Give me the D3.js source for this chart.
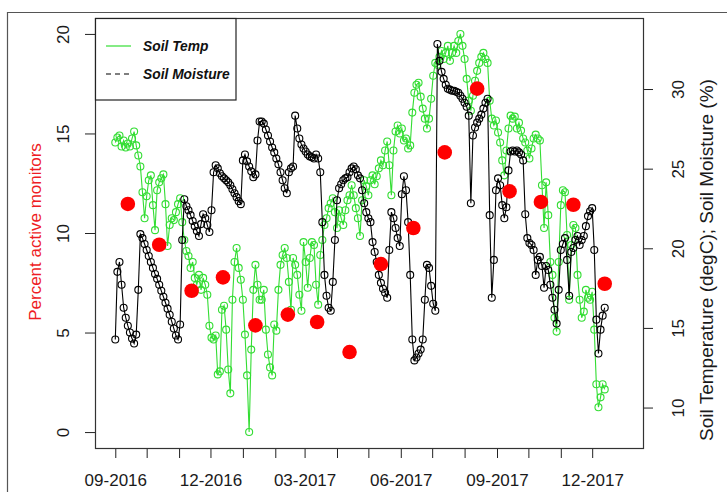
<!DOCTYPE html>
<html>
<head>
<meta charset="utf-8">
<script src="https://cdn.jsdelivr.net/npm/d3@7"></script>
<style>
  html, body { margin: 0; padding: 0; background: #fff; }
  svg { display: block; font-family: "Liberation Sans", Arial, sans-serif; }
</style>
</head>
<body>
<svg id="chart" width="727" height="492"></svg>
<script>
// Monthly share of active monitors (left axis, %)
const monitorDates = ["2016-09-13","2016-10-13","2016-11-13","2016-12-13","2017-01-13","2017-02-13",
  "2017-03-13","2017-04-13","2017-05-13","2017-06-13","2017-07-13","2017-08-13",
  "2017-09-13","2017-10-13","2017-11-13","2017-12-13"];
const monitorPct = [11.46, 9.41, 7.10, 7.77, 5.36, 5.90, 5.53, 4.02, 8.44, 10.25, 14.05, 17.25,
  12.09, 11.56, 11.42, 7.45];

// Soil readings (right axis), one value every two days from the start date
const seriesStart = "2016-09-01";
const seriesStepDays = 2;

const soilTemp = [
  26.64, 26.96, 27.08, 26.39, 26.77, 26.33, 26.58, 26.39, 26.89, 27.33, 26.46, 25.83, 25.14,
  23.52, 21.89, 23.27, 24.27, 24.58, 22.71, 21.14, 23.64, 24.14, 24.39, 24.64, 22.77, 20.14, 21.46, 21.89, 21.77, 22.27, 22.77, 23.14, 21.64, 20.52,
  19.83, 19.52, 18.77, 19.14, 18.14, 17.71, 18.33, 17.39, 18.14, 17.71, 17.08, 15.14, 14.39,
  14.27, 14.52, 12.08, 12.27, 16.14, 16.39, 14.89, 12.39, 10.89, 16.77, 19.14, 20.02, 18.77, 18.02,
  16.77, 14.58, 12.02, 8.46, 13.64, 17.39, 18.96,
  17.71, 16.77, 16.77, 17.39, 14.89, 13.33, 12.52, 12.02, 15.21, 14.83, 17.39, 18.96, 19.58, 20.02, 19.39,
  17.89, 16.14, 19.39,
  18.96, 18.33, 17.08, 16.08, 20.39, 19.14, 17.52, 19.39, 20.39, 20.21, 17.71, 16.46, 19.58,
  20.52, 21.46, 21.89, 22.52, 22.83, 23.14, 22.27,
  21.27, 22.39, 21.89, 21.46, 22.39, 23.02, 23.33, 23.96, 23.33, 22.52, 21.89, 20.77, 23.02, 24.27, 23.89, 23.33, 24.27, 24.58, 24.02, 24.52, 25.02, 25.52, 25.21, 26.14, 26.71,
  25.21, 23.33, 26.14, 27.33, 27.71, 27.21, 27.52, 26.77, 26.89, 26.27, 26.46, 28.52, 29.77, 30.27, 30.39, 29.52, 28.77, 28.14, 27.52, 28.14, 29.39, 30.83, 31.64,
  31.52, 32.02, 32.39, 31.89, 32.27, 32.71, 31.77, 32.27, 32.71, 32.27, 33.02, 33.46, 32.71, 31.89, 30.64, 29.27,
  28.64, 29.58, 30.52, 31.14, 31.64, 32.02, 32.27, 31.89, 31.64,
  29.27, 28.14, 27.71, 28.02, 27.27, 26.64, 25.52, 24.58, 26.14, 27.52, 28.33, 28.14, 28.27, 27.52, 27.89, 27.39, 26.89,
  26.64, 26.14, 25.64, 26.27, 26.89, 27.14, 26.89, 26.77, 23.96, 21.27, 24.14, 22.08, 19.14, 18.33, 15.64, 14.77, 19.14, 22.71, 23.64, 23.52,
  20.83, 16.77, 20.21, 21.46, 21.27, 18.33, 16.77, 15.64, 16.02, 17.39, 16.89, 16.77, 17.27, 14.89, 11.46, 10.02, 10.64, 11.46, 11.14
];

const soilMoisture = [
  14.27, 18.52, 19.14, 17.71, 16.27, 15.64, 15.14, 14.71, 14.33, 14.02, 14.58, 17.39, 20.89,
  20.64, 20.27, 19.89, 19.52, 19.14, 18.77, 18.39, 18.08, 17.71, 17.33, 16.96, 16.58, 16.21, 15.83, 15.39, 14.96, 14.52, 14.27, 15.21, 20.52, 23.08,
  22.64, 22.39, 22.08, 21.71, 21.39, 21.08, 20.77, 21.52, 22.14, 21.89, 21.46, 21.02, 22.39,
  24.77, 25.21, 25.02, 24.71, 24.52, 24.39, 24.27, 24.14, 23.96, 23.71, 23.46, 23.21, 22.96, 22.77,
  25.52, 25.89, 25.46, 25.14, 24.83, 24.46, 24.64,
  26.77, 27.96, 27.96, 27.83, 27.46, 27.08, 26.71, 26.33, 26.02, 25.64, 25.27, 24.77, 24.27, 23.77, 23.46,
  24.77, 25.02, 25.14,
  28.33, 27.52, 26.89, 26.52, 26.27, 26.08, 25.89, 25.77, 25.71, 25.64, 25.89, 25.64, 24.77,
  21.64, 18.33, 17.02, 16.27, 16.08, 17.89, 20.52,
  23.02, 23.77, 24.02, 24.27, 24.39, 24.46, 24.77, 25.02, 25.14, 24.96, 24.58, 24.39, 23.64, 22.83, 22.27, 21.89, 21.64, 20.39, 19.77, 19.14, 18.33, 17.83, 17.46, 17.21, 16.89,
  19.89, 22.27, 21.89, 21.27, 20.64, 20.14, 23.39, 24.52, 23.64, 21.64, 18.33, 14.27, 12.96, 13.14, 13.39, 13.64, 14.27, 16.77, 18.96, 18.77, 17.64, 16.52, 16.08,
  32.83, 31.77, 31.08, 30.64, 30.27, 30.02, 29.96, 29.89, 29.89, 29.83, 29.77, 29.58, 29.39, 29.14, 28.89, 28.33,
  22.83, 27.08, 27.58, 27.89, 28.14, 28.39, 28.77, 29.14, 29.39,
  22.08, 16.89, 19.27, 23.64, 24.39, 23.96, 22.71, 21.89, 22.58, 24.89, 26.08, 26.14, 26.08, 26.14, 26.02, 25.89, 25.52,
  22.14, 20.64, 20.33, 20.21, 19.89, 18.33, 19.27, 19.46, 18.89, 17.52, 18.89, 18.64, 17.71, 16.89, 16.14, 15.27, 17.39, 19.89, 20.27, 20.64,
  19.27, 17.02, 19.77, 20.02, 20.52, 20.77, 20.21, 20.52, 20.77, 21.39, 22.02, 22.33, 22.52, 19.89, 15.52, 13.39, 14.89, 15.77, 16.27
];

const monthLabels = ["09-2016", "12-2016", "03-2017", "06-2017", "09-2017", "12-2017"];
const leftTicks = [0, 5, 10, 15, 20];
const rightTicks = [10, 15, 20, 25, 30];

// ---- layout ----
const box = { left: 95, right: 643, top: 18, bottom: 448 };
const parse = d3.utcParse("%Y-%m-%d");
const fmtMonth = d3.utcFormat("%m-%Y");
const GREEN = "#33dd33";

const x = d3.scaleUtc()
  .domain([new Date(Date.UTC(2016, 7, 12, 14, 24)), new Date(Date.UTC(2018, 0, 18, 14, 24))])
  .range([box.left, box.right]);
const yLeft = d3.scaleLinear().domain([-0.8, 20.8]).range([box.bottom, box.top]);
const yRight = d3.scaleLinear().domain([7.46, 34.46]).range([box.bottom, box.top]);

const start = parse(seriesStart);
const toPoints = vals => vals.map((v, i) => ({ date: d3.utcDay.offset(start, i * seriesStepDays), value: v }));
const tempPts = toPoints(soilTemp);
const moistPts = toPoints(soilMoisture);
const monitorPts = monitorDates.map((d, i) => ({ date: parse(d), value: monitorPct[i] }));

const svg = d3.select("#chart");

// outer frame of the figure
svg.append("path")
  .attr("d", "M7.5,492 V12.5 H727")
  .attr("fill", "none").attr("stroke", "#555").attr("stroke-width", 1.2);

// ---- axes ----
const styleAxis = g => {
  g.attr("font-family", null).attr("font-size", null);
  g.select(".domain").remove();
  g.selectAll(".tick line").attr("stroke", "#222");
  g.selectAll(".tick text").attr("fill", "#1a1a1a").style("font-size", "17px");
};

const monthTicks = d3.utcMonth.range(new Date(Date.UTC(2016, 8, 1)), new Date(Date.UTC(2018, 0, 1)));
svg.append("g")
  .attr("transform", `translate(0,${box.bottom})`)
  .call(d3.axisBottom(x).tickValues(monthTicks).tickSize(10).tickSizeOuter(0)
    .tickFormat(d => monthLabels.includes(fmtMonth(d)) ? fmtMonth(d) : ""))
  .call(styleAxis)
  .call(g => g.selectAll(".tick text").attr("y", 38).attr("dy", 0));

svg.append("g")
  .attr("transform", `translate(${box.left},0)`)
  .call(d3.axisLeft(yLeft).tickValues(leftTicks).tickSize(10).tickSizeOuter(0).tickFormat(d3.format("d")))
  .call(styleAxis)
  .call(g => g.selectAll(".tick text")
    .attr("x", 0).attr("dy", 0).attr("text-anchor", "middle")
    .attr("transform", "translate(-26,0) rotate(-90)"));

svg.append("g")
  .attr("transform", `translate(${box.right},0)`)
  .call(d3.axisRight(yRight).tickValues(rightTicks).tickSize(10).tickSizeOuter(0).tickFormat(d3.format("d")))
  .call(styleAxis)
  .call(g => g.selectAll(".tick text")
    .attr("x", 0).attr("dy", 0).attr("text-anchor", "middle")
    .attr("transform", "translate(41,0) rotate(-90)"));

// plot frame
svg.append("rect")
  .attr("x", box.left + 0.5).attr("y", box.top + 0.5)
  .attr("width", box.right - box.left).attr("height", box.bottom - box.top)
  .attr("fill", "none").attr("stroke", "#333").attr("stroke-width", 1.2);

// ---- series ----
const lineR = d3.line().x(d => x(d.date)).y(d => yRight(d.value));

function drawSeries(pts, color) {
  const g = svg.append("g");
  g.append("path").datum(pts)
    .attr("d", lineR).attr("fill", "none").attr("stroke", color).attr("stroke-width", 1.1);
  g.selectAll("circle").data(pts).join("circle")
    .attr("cx", d => x(d.date)).attr("cy", d => yRight(d.value)).attr("r", 3.5)
    .attr("fill", "none").attr("stroke", color).attr("stroke-width", 1.1);
}
drawSeries(tempPts, GREEN);
drawSeries(moistPts, "#000");

svg.append("g").selectAll("circle").data(monitorPts).join("circle")
  .attr("cx", d => x(d.date)).attr("cy", d => yLeft(d.value)).attr("r", 7.3)
  .attr("fill", "#ff0000");

// ---- legend ----
const lg = svg.append("g");
lg.append("rect").attr("x", box.left + 0.5).attr("y", box.top + 0.5).attr("width", 140.5).attr("height", 81.5)
  .attr("fill", "#fff").attr("stroke", "#222").attr("stroke-width", 1.2);
lg.append("line").attr("x1", 106).attr("x2", 131).attr("y1", 46).attr("y2", 46)
  .attr("stroke", GREEN).attr("stroke-width", 1.2);
lg.append("line").attr("x1", 106).attr("x2", 131).attr("y1", 74).attr("y2", 74)
  .attr("stroke", "#000").attr("stroke-width", 1.2).attr("stroke-dasharray", "5,4");
lg.selectAll("text").data(["Soil Temp", "Soil Moisture"]).join("text")
  .attr("x", 143).attr("y", (d, i) => 51 + i * 28)
  .attr("font-weight", "bold").attr("font-style", "italic").attr("font-size", "13.8px")
  .attr("fill", "#111").text(d => d);

// ---- axis titles ----
svg.append("text")
  .attr("transform", "translate(41,232) rotate(-90)")
  .attr("text-anchor", "middle").attr("font-size", "17px").attr("fill", "#ee1c24")
  .text("Percent active monitors");
svg.append("text")
  .attr("transform", "translate(713,260) rotate(-90)")
  .attr("text-anchor", "middle").attr("font-size", "19px").attr("fill", "#1a1a1a")
  .text("Soil Temperature (degC); Soil Moisture (%)");
</script>
</body>
</html>
